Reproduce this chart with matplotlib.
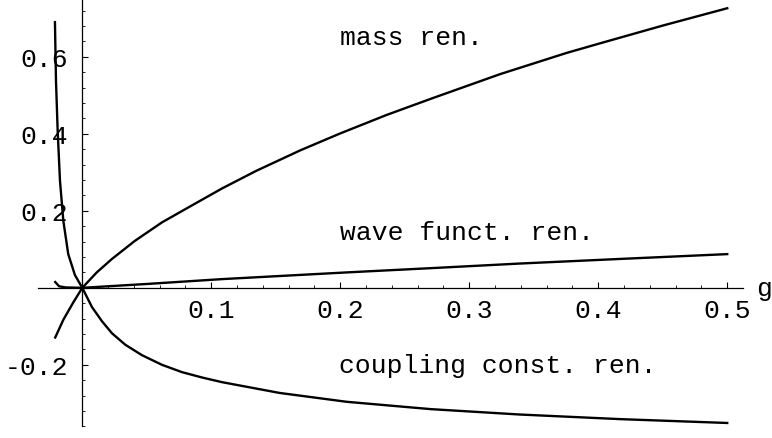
import matplotlib.pyplot as plt
from matplotlib.ticker import FixedLocator

# curves
mass_x = [-0.021, -0.0147, -0.007, 0.0, 0.0112, 0.023, 0.0408, 0.0618, 0.085, 0.1083,
          0.135, 0.169, 0.2, 0.236, 0.272, 0.324, 0.3755, 0.4015, 0.45, 0.5]
mass_y = [-0.129, -0.083, -0.038, 0.0, 0.040, 0.075, 0.122, 0.170, 0.214, 0.258,
          0.304, 0.357, 0.401, 0.449, 0.493, 0.555, 0.610, 0.635, 0.681, 0.726]

wave_x = [-0.021, -0.018, -0.013, 0.0, 0.05, 0.1083, 0.205, 0.27, 0.339, 0.417, 0.5]
wave_y = [0.015, 0.004, 0.001, 0.0, 0.010, 0.0226, 0.040, 0.051, 0.063, 0.075, 0.0875]

coup_x = [-0.0212, -0.0204, -0.0191, -0.0173, -0.0147, -0.0109, -0.0057, 0.0,
          0.0075, 0.0153, 0.023, 0.0334, 0.0463, 0.0618, 0.0773, 0.093, 0.1083,
          0.153, 0.205, 0.27, 0.339, 0.417, 0.5]
coup_y = [0.69, 0.538, 0.408, 0.278, 0.174, 0.0875, 0.033, 0.0,
          -0.050, -0.087, -0.118, -0.148, -0.175, -0.200, -0.219, -0.233, -0.245,
          -0.273, -0.296, -0.315, -0.329, -0.341, -0.351]

xticks = [0.1, 0.2, 0.3, 0.4, 0.5]
yticks = [-0.2, 0.2, 0.4, 0.6]

labels = ["mass ren.", "wave funct. ren.", "coupling const. ren."]
label_pos = [(0.2, 0.633), (0.2, 0.128), (0.199, -0.218)]

FONT = "Liberation Mono"
FS = 19

fig = plt.figure(figsize=(7.72, 4.39), dpi=100)
ax = fig.add_axes([0, 0, 1, 1])
ax.set_xlim(-0.0638, 0.5347)
ax.set_ylim(-0.390, 0.750)

for xs, ys in [(mass_x, mass_y), (wave_x, wave_y), (coup_x, coup_y)]:
    ax.plot(xs, ys, color="black", lw=1.7, solid_joinstyle="round")

for txt, (tx, ty) in zip(labels, label_pos):
    ax.text(tx, ty, txt, family=FONT, fontsize=FS, ha="left", va="baseline")

# mathematica style axes through origin
for side in ["top", "right"]:
    ax.spines[side].set_visible(False)
ax.spines["left"].set_position(("data", 0))
ax.spines["bottom"].set_position(("data", 0))
ax.spines["left"].set_bounds(-0.36, 0.75)
ax.spines["bottom"].set_bounds(-0.034, 0.512)
ax.spines["left"].set_linewidth(0.9)
ax.spines["bottom"].set_linewidth(0.9)

ax.xaxis.set_major_locator(FixedLocator(xticks))
ax.yaxis.set_major_locator(FixedLocator(yticks))
ax.xaxis.set_minor_locator(FixedLocator([v / 50 for v in range(1, 26) if v % 5]))
ax.yaxis.set_minor_locator(FixedLocator([v / 25 for v in range(-9, 19) if v % 5]))
ax.set_xticklabels([f"{v:.1f}" for v in xticks])
ax.set_yticklabels([f"{v:.1f}" for v in yticks])

ax.tick_params(which="major", direction="in", length=4.5, width=0.8)
ax.tick_params(which="minor", direction="in", length=2.3, width=0.6)
ax.tick_params(axis="x", which="major", pad=7)
ax.tick_params(axis="y", which="major", pad=10)
for lab in ax.get_xticklabels() + ax.get_yticklabels():
    lab.set_family(FONT)
    lab.set_fontsize(FS)

# axis name, kept just inside the right edge
ax.text(0.5225, -0.019, "g", family=FONT, fontsize=FS, ha="left", va="baseline")

fig.savefig("out.png", dpi=100)
